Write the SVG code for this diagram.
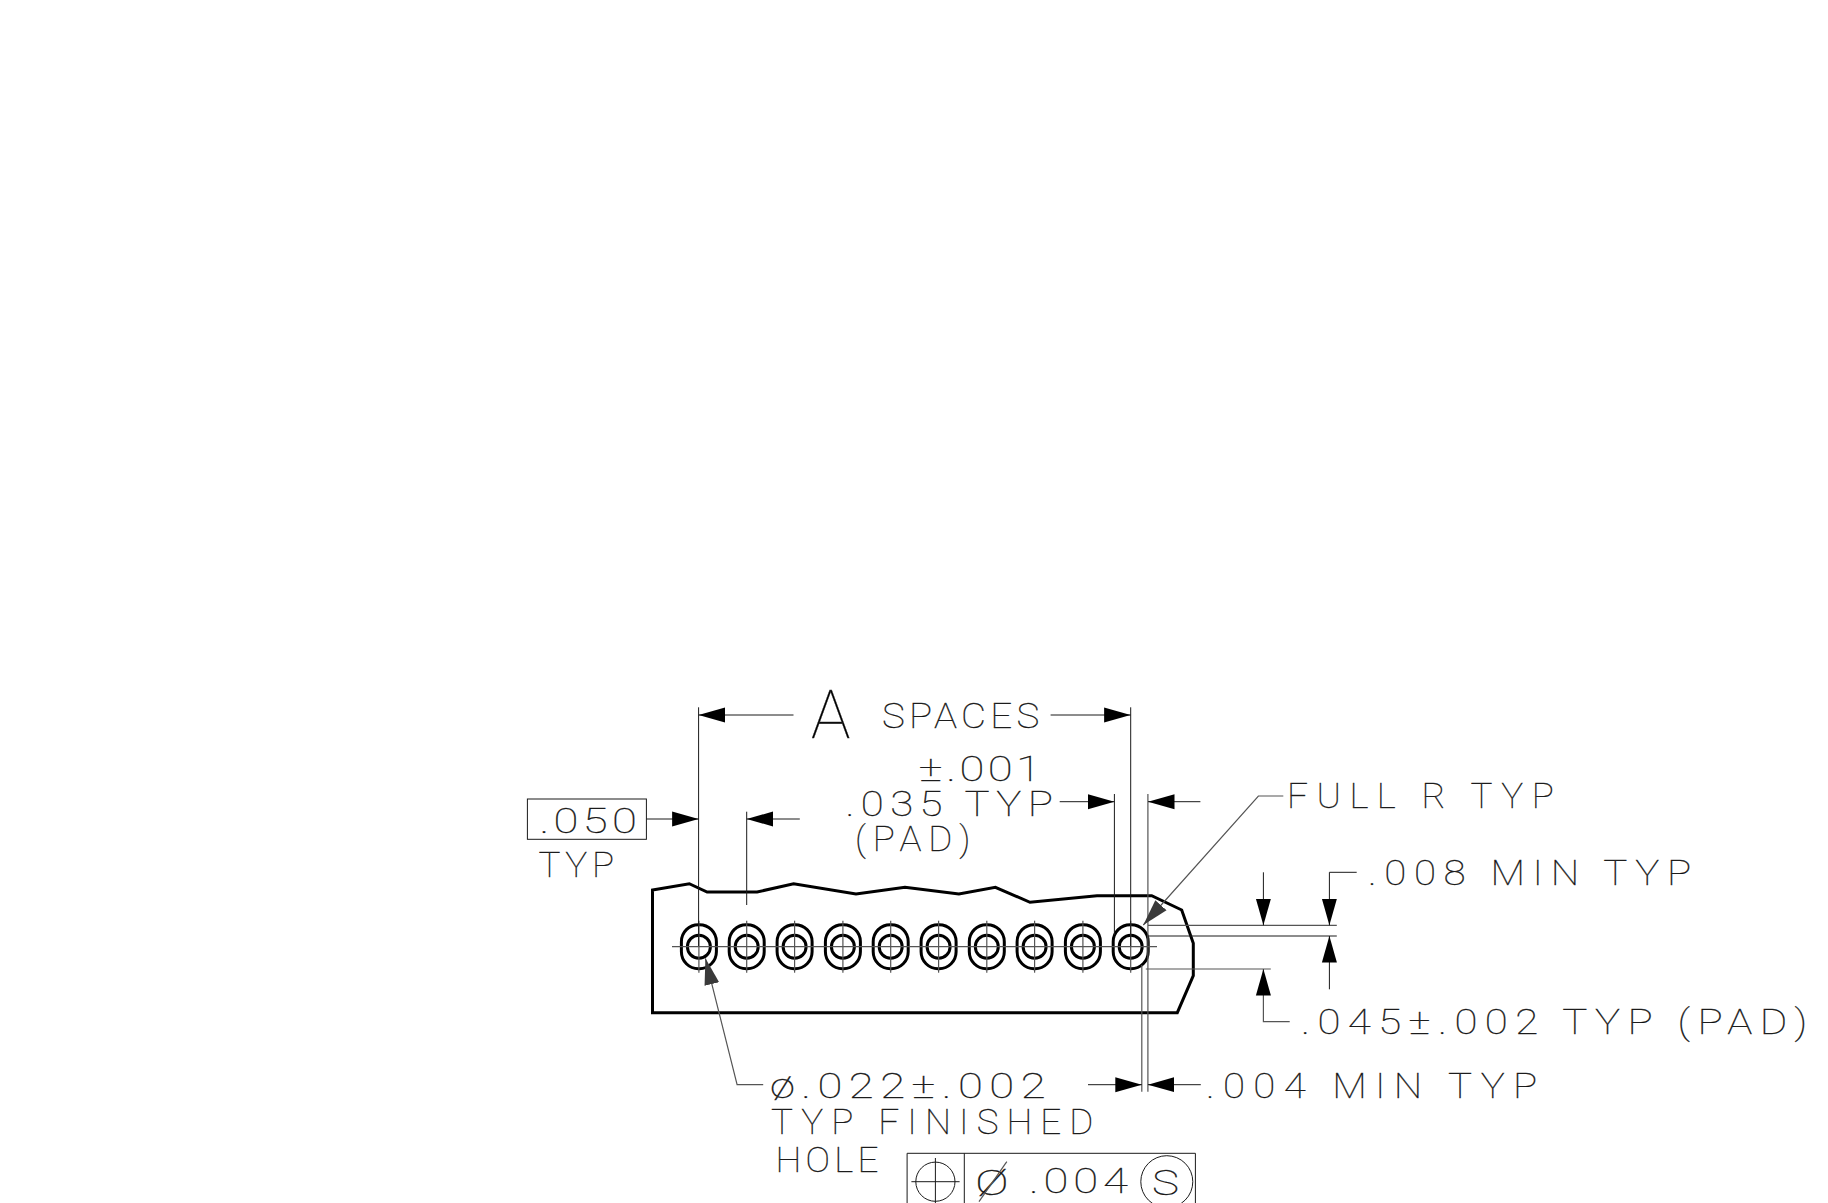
<svg xmlns="http://www.w3.org/2000/svg" xmlns:xlink="http://www.w3.org/1999/xlink" width="1828" height="1203" viewBox="0 0 1828 1203">
<style>
text{font-family:"Roboto","Liberation Sans",sans-serif;font-weight:100;font-size:35px;fill:#000;stroke:#333;stroke-width:.3px;}
.l{fill:none;stroke:#1a1a1a;stroke-width:1}
.g{fill:none;stroke:#555;stroke-width:1.2}
.h{fill:none;stroke:#000;stroke-width:3}
.o{fill:none;stroke:#000;stroke-width:3}
</style>
<defs>
<marker id="ah" markerUnits="userSpaceOnUse" markerWidth="28" markerHeight="17" refX="26.5" refY="8" orient="auto"><path d="M0 0.5L26.5 8L0 15.5Z" fill="#000"/></marker>
<marker id="ag" markerUnits="userSpaceOnUse" markerWidth="28" markerHeight="17" refX="26.5" refY="8" orient="auto"><path d="M0 0.5L26.5 8L0 15.5Z" fill="#3a3a3a"/></marker>
<g id="hole"><rect x="-17.5" y="-22" width="35" height="44" rx="17" ry="17" class="o"/><circle r="11.5" class="o"/><path d="M0 -26V26" class="g"/></g>
</defs>
<rect width="1828" height="1203" fill="#fff"/>
<g id="body"><path class="h" d="M652.5 890L689.3 883.7L707.1 892L757.1 892L793.6 883.7L856 894L905 887.3L958.9 894L995.4 887.3L1030 902.3L1097 895.7L1151.7 895.7L1181.7 910L1193.3 943.3L1193.3 975.7L1177.3 1012.7L652.5 1012.7Z"/></g>
<g id="holes">
<use xlink:href="#hole" href="#hole" x="698.9" y="946.7"/>
<use xlink:href="#hole" href="#hole" x="746.7" y="946.7"/>
<use xlink:href="#hole" href="#hole" x="794.6" y="946.7"/>
<use xlink:href="#hole" href="#hole" x="842.9" y="946.7"/>
<use xlink:href="#hole" href="#hole" x="890.7" y="946.7"/>
<use xlink:href="#hole" href="#hole" x="938.6" y="946.7"/>
<use xlink:href="#hole" href="#hole" x="986.8" y="946.7"/>
<use xlink:href="#hole" href="#hole" x="1034.6" y="946.7"/>
<use xlink:href="#hole" href="#hole" x="1082.9" y="946.7"/>
<use xlink:href="#hole" href="#hole" x="1130.7" y="946.7"/>
<path class="g" d="M672 946.7H1157"/>
</g>
<g id="connectors">
<path class="l" d="M698.6 707.3V946"/>
<path class="l" d="M1130.7 707.3V946"/>
<path class="l" d="M746.7 811.7V905"/>
<path class="l" d="M1114.4 794V935"/>
<path class="g" d="M1147.9 794V1091.7"/>
<path class="g" d="M1141.8 965V1091.7"/>
<path class="g" d="M1148 925.3H1336.8"/>
<path class="l" d="M1148 936H1336.8"/>
<path class="g" d="M1145.8 969H1270.8"/>
<path class="l" d="M793.5 715H698.6" marker-end="url(#ah)"/>
<path class="l" d="M1050.6 715H1130.6" marker-end="url(#ah)"/>
<path class="l" d="M799.8 819H746.7" marker-end="url(#ah)"/>
<path class="l" d="M1059.7 801.7H1114.4" marker-end="url(#ah)"/>
<path class="l" d="M1200.4 801.7H1148" marker-end="url(#ah)"/>
<path class="l" d="M646.4 819H698.6" marker-end="url(#ah)"/>
<path class="g" d="M1283.3 796H1258.4L1143.3 925" marker-end="url(#ag)"/>
<path class="g" d="M763.2 1084.7H737.1L705.4 958.3" marker-end="url(#ag)"/>
<path class="l" d="M1263.4 872.3V925.3" marker-end="url(#ah)"/>
<path class="l" d="M1356.7 872.3H1329.4V925.3" marker-end="url(#ah)"/>
<path class="l" d="M1329.4 989.3V936" marker-end="url(#ah)"/>
<path class="g" d="M1289.7 1021.7H1263.4V969" marker-end="url(#ah)"/>
<path class="l" d="M1088 1084.7H1141.8" marker-end="url(#ah)"/>
<path class="l" d="M1200.8 1084.7H1147.9" marker-end="url(#ah)"/>
</g>
<g id="labels">
<text transform="translate(811 738.3)" style="font-size:66px">A</text>
<text transform="translate(882 728.3) scale(1.1 1)" textLength="143">SPACES</text>
<text transform="translate(918.8 781) scale(1.3 1)" textLength="94">±.001</text>
<text transform="translate(845.4 815.7) scale(1.2 1)" textLength="173">.035 TYP</text>
<text transform="translate(855 851) scale(1.05 1)" textLength="110">(PAD)</text>
<text transform="translate(538.4 877) scale(1.05 1)" textLength="72">TYP</text>
<text transform="translate(1287 808.3) scale(1.05 1)" textLength="254">FULL R TYP</text>
<text transform="translate(1368 885) scale(1.15 1)" textLength="281">.008 MIN TYP</text>
<text transform="translate(1301 1034) scale(1.2 1)" textLength="422">.045±.002 TYP (PAD)</text>
<text transform="translate(1206 1098.3) scale(1.15 1)" textLength="288">.004 MIN TYP</text>
<text transform="translate(770 1098.3) scale(1.3 1)" textLength="212">ø.022±.002</text>
<text transform="translate(771 1134.3) scale(1.05 1)" textLength="307">TYP FINISHED</text>
<text transform="translate(775.5 1171.7) scale(1.05 1)" textLength="98">HOLE</text>
</g>
<g id="dim-050"><rect class="l" x="527.4" y="799" width="119" height="40.3"/><text transform="translate(539.5 832.7) scale(1.3 1)" textLength="75">.050</text></g>
<g id="tolerance-frame">
<path class="l" d="M907.1 1203V1153.3H1195.4V1203M964.3 1153.3V1203"/>
<circle class="l" cx="935.4" cy="1181.7" r="19.6"/>
<path class="l" d="M911.4 1181.7H959.6M935.4 1158V1203"/>
<circle class="l" cx="1166.8" cy="1181.7" r="26"/>
<text transform="translate(975 1195) scale(1.45 1)">Ø</text>
<path class="g" d="M979 1201.7L1006.8 1161.7"/>
<text transform="translate(1029 1193.3) scale(1.3 1)" textLength="76">.004</text>
<text transform="translate(1152 1195) scale(1.3 1)">S</text>
</g>
</svg>
